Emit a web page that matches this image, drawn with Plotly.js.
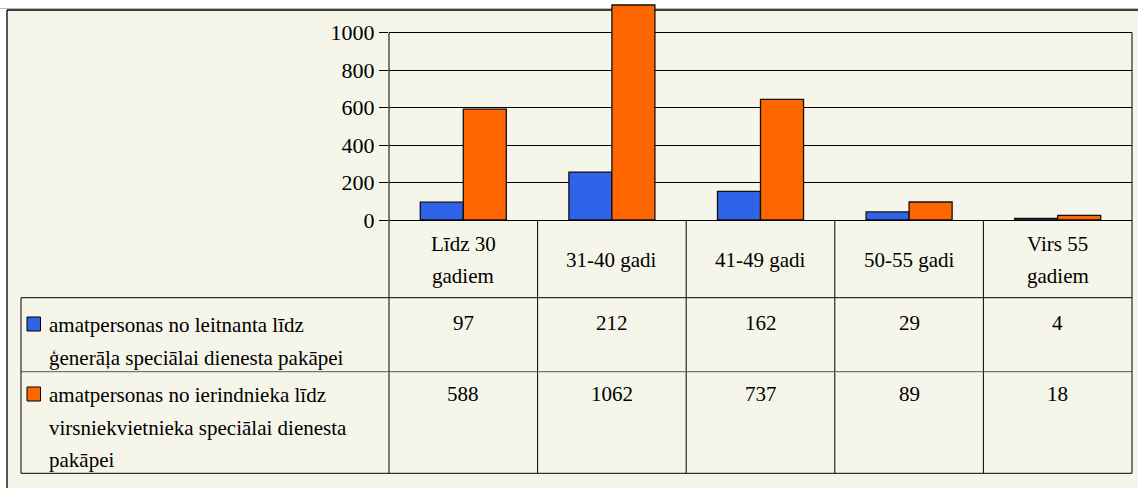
<!DOCTYPE html>
<html><head><meta charset="utf-8">
<script src="https://cdn.plot.ly/plotly-3.0.1.min.js"></script>
<style>body{margin:0}</style>
</head><body>
<div id="c1"></div>
<script>
// ---- data ----
const categories = ['Līdz 30\ngadiem', '31-40 gadi', '41-49 gadi', '50-55 gadi', 'Virs 55\ngadiem'];
const seriesNames = [
  'amatpersonas no leitnanta līdz\nģenerāļa speciālai dienesta pakāpei',
  'amatpersonas no ierindnieka līdz\nvirsniekvietnieka speciālai dienesta\npakāpei'
];
// bar heights as drawn in the picture
const barsA = [95, 256, 153, 43, 9];
const barsB = [592, 1148, 644, 96, 25];
// values printed in the data table
const tableA = [97, 212, 162, 29, 4];
const tableB = [588, 1062, 737, 89, 18];
const yTicks = [0, 200, 400, 600, 800, 1000];
const colors = ['#3163E8', '#FF6600'];

(function () {
  const F = 'Times New Roman';
  const SZ = 21;
  const W = 1138, H = 488;
  const L0 = 389, R0 = 1132, B0 = 220;
  const pw = R0 - L0, ph = B0;
  const yMax = 1000 * ph / (220 - 32.7);
  const toX = v => (v - L0) / pw;
  const toY = v => (B0 - v) / ph;

  function a(t, extra) {
    return Object.assign({xref: 'paper', yref: 'paper', x: 0, y: 1, xanchor: 'center', yanchor: 'middle',
      showarrow: false, text: t, font: {family: F, size: SZ, color: '#000'}}, extra || {});
  }
  const shapes = [];
  function seg(x0, y0, x1, y1, color, width, layer) {
    shapes.push({type: 'line', xref: 'paper', yref: 'paper', x0: toX(x0), y0: toY(y0), x1: toX(x1), y1: toY(y1),
      line: {color: color, width: width}, layer: layer || 'above'});
  }
  shapes.push({type: 'rect', xref: 'paper', yref: 'paper', x0: toX(7), y0: toY(10), x1: toX(W + 2), y1: toY(H + 2),
    fillcolor: '#F5F5EA', line: {width: 0}, layer: 'below'});
  seg(7, 10, W + 2, 10, '#000', 1.3, 'below');
  seg(7, 10, 7, H + 2, '#000', 1.3, 'below');
  seg(0, 8.5, W + 2, 8.5, '#bbb', 1, 'below');
  shapes.push({type: 'line', xref: 'paper', yref: 'y', x0: 0, x1: 0, y0: 0, y1: 1000, line: {color: '#000', width: 1}});
  shapes.push({type: 'line', xref: 'paper', yref: 'y', x0: 1, x1: 1, y0: 0, y1: 1000, line: {color: '#000', width: 1}});
  const colW = pw / categories.length;
  for (let k = 0; k <= categories.length; k++) seg(L0 + k * colW, 220, L0 + k * colW, 473.3, '#000', 1);
  seg(21, 297.7, R0, 297.7, '#000', 1);
  seg(21, 371.7, R0, 371.7, '#555', 1);
  seg(21, 473.3, R0, 473.3, '#000', 1);
  seg(21, 297.7, 21, 473.3, '#000', 1);

  const ann = [];
  categories.forEach((c, i) => {
    const parts = c.split('\n');
    parts.forEach((p, j) => {
      const y = 260 + (j - (parts.length - 1) / 2) * 31.7;
      ann.push(a(p, {xref: 'x', x: i, y: toY(y)}));
    });
  });
  const rowTop = [325, 395];
  seriesNames.forEach((s, r) => {
    s.split('\n').forEach((p, j) => {
      ann.push(a(p, {x: toX(47), y: toY(rowTop[r] + j * 32.5), xanchor: 'left'}));
    });
    shapes.push({type: 'rect', xref: 'paper', yref: 'paper', x0: toX(27), x1: toX(40.5),
      y0: toY(rowTop[r] - 8), y1: toY(rowTop[r] + 6), fillcolor: colors[r], line: {color: '#000', width: 1}});
  });
  [tableA, tableB].forEach((vals, r) => {
    vals.forEach((v, i) => ann.push(a(String(v), {xref: 'x', x: i, y: toY([323.3, 394.3][r])})));
  });

  const idx = categories.map((_, i) => i);
  const traces = [barsA, barsB].map((vals, r) => ({
    type: 'bar', x: idx, y: vals, name: seriesNames[r],
    marker: {color: colors[r], line: {color: '#111', width: 1.3}}, hoverinfo: 'skip'
  }));

  Plotly.newPlot('c1', traces, {
    width: W, height: H,
    margin: {l: L0, r: W - R0, t: 0, b: H - B0, pad: 0},
    font: {family: F, size: SZ, color: '#000'},
    paper_bgcolor: '#fff', plot_bgcolor: 'rgba(0,0,0,0)',
    showlegend: false, barmode: 'group', bargap: 0.421, bargroupgap: 0,
    xaxis: {range: [-0.5, categories.length - 0.5], showgrid: false, zeroline: false, showticklabels: false,
      showline: true, linecolor: '#000', linewidth: 1, ticks: ''},
    yaxis: {range: [0, yMax], tickvals: yTicks, showgrid: true, gridcolor: '#000', gridwidth: 1,
      zeroline: false, ticks: 'outside', ticklen: 9, tickcolor: '#000', tickwidth: 1,
      tickfont: {family: F, size: 22, color: '#000'}, showline: false},
    shapes: shapes, annotations: ann
  }, {displayModeBar: false});
})();
</script></body></html>
